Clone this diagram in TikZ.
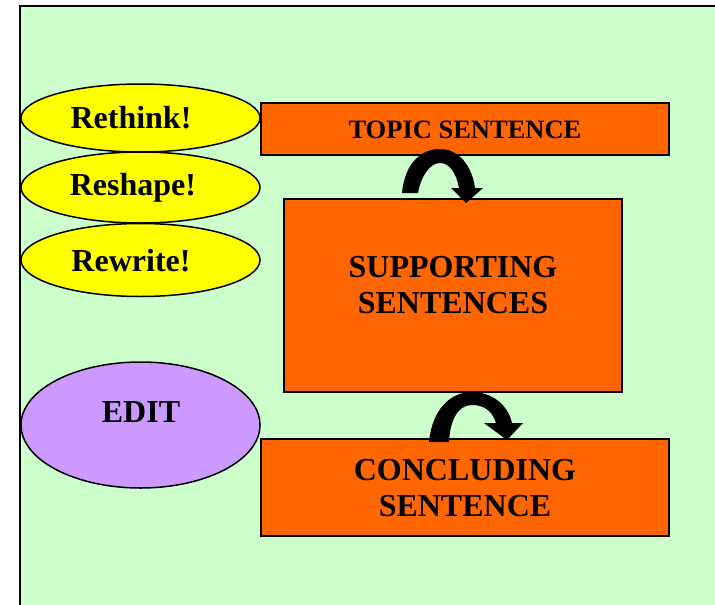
\documentclass[tikz,border=0pt]{standalone}
\usepackage{fontspec}
\setmainfont{Liberation Serif}
\usetikzlibrary{shapes.geometric}
\definecolor{bgGreen}{HTML}{CCFFCC}
\definecolor{boxOrange}{HTML}{FF6600}
\definecolor{ellYellow}{HTML}{FFFF00}
\definecolor{ellPurple}{HTML}{CC99FF}
\tikzset{
  orangebox/.style={draw=black, line width=2pt, fill=boxOrange, rectangle, inner sep=0pt},
  yellowell/.style={draw=black, line width=1.5pt, fill=ellYellow, ellipse, inner sep=0pt, minimum width=239pt},
  purpleell/.style={draw=black, line width=1.5pt, fill=ellPurple, ellipse, inner sep=0pt, minimum width=239pt},
  bigtxt/.style={font=\fontsize{32}{36}\selectfont\bfseries, align=center, inner sep=0pt},
  smalltxt/.style={font=\fontsize{26.5}{30}\selectfont\bfseries, align=center, inner sep=0pt},
  curvedarrow/.style={fill=black, draw=none}
}
\begin{document}
\begin{tikzpicture}[x=1pt, y=-1pt]
\useasboundingbox (0,0) rectangle (715,605);
% background
\fill[bgGreen, draw=black, line width=2pt] (19.5,5.5) rectangle (730,620);

% boxes
\node[orangebox, minimum width=408pt, minimum height=52pt] (topic) at (465,129) {};
\node[smalltxt] (topicText) at (465,130) {TOPIC SENTENCE};

\node[orangebox, minimum width=338pt, minimum height=193pt] (support) at (453,295.5) {};
\node[bigtxt] (supportText) at (453,285) {SUPPORTING\\SENTENCES};

\node[orangebox, minimum width=408pt, minimum height=97pt] (conclude) at (465,487.5) {};
\node[bigtxt] (concludeText) at (465,488) {CONCLUDING\\SENTENCE};

% ellipses
\node[yellowell, minimum height=68pt] (rethink) at (140.5,118) {};
\node[bigtxt] (rethinkText) at (131,118) {Rethink!};
\node[yellowell, minimum height=71pt] (reshape) at (140.5,187.5) {};
\node[bigtxt] (reshapeText) at (133,188) {Reshape!};
\node[yellowell, minimum height=73pt] (rewrite) at (140.5,260) {};
\node[bigtxt] (rewriteText) at (131,261) {Rewrite!};

\node[purpleell, minimum height=126pt] (edit) at (140.5,425) {};
\node[bigtxt] (editText) at (141,412) {EDIT};

% curved block arrows
\fill[curvedarrow] (402,193) .. controls (405,162) and (422,149) .. (440,149)
  .. controls (458,149) and (472,165) .. (475,188)
  -- (483,188) -- (466,203) -- (451,188) -- (459,188)
  .. controls (456,172) and (449,163) .. (440,163)
  .. controls (430,163) and (421,176) .. (418,193) -- cycle;

\fill[curvedarrow] (429,442) .. controls (432,410) and (450,392) .. (472,392)
  .. controls (492,392) and (508,405) .. (512,423)
  -- (523,423) -- (507,440) -- (484,423) -- (496,423)
  .. controls (492,410) and (483,405) .. (472,405)
  .. controls (458,405) and (450,420) .. (449,442) -- cycle;
\end{tikzpicture}
\end{document}
